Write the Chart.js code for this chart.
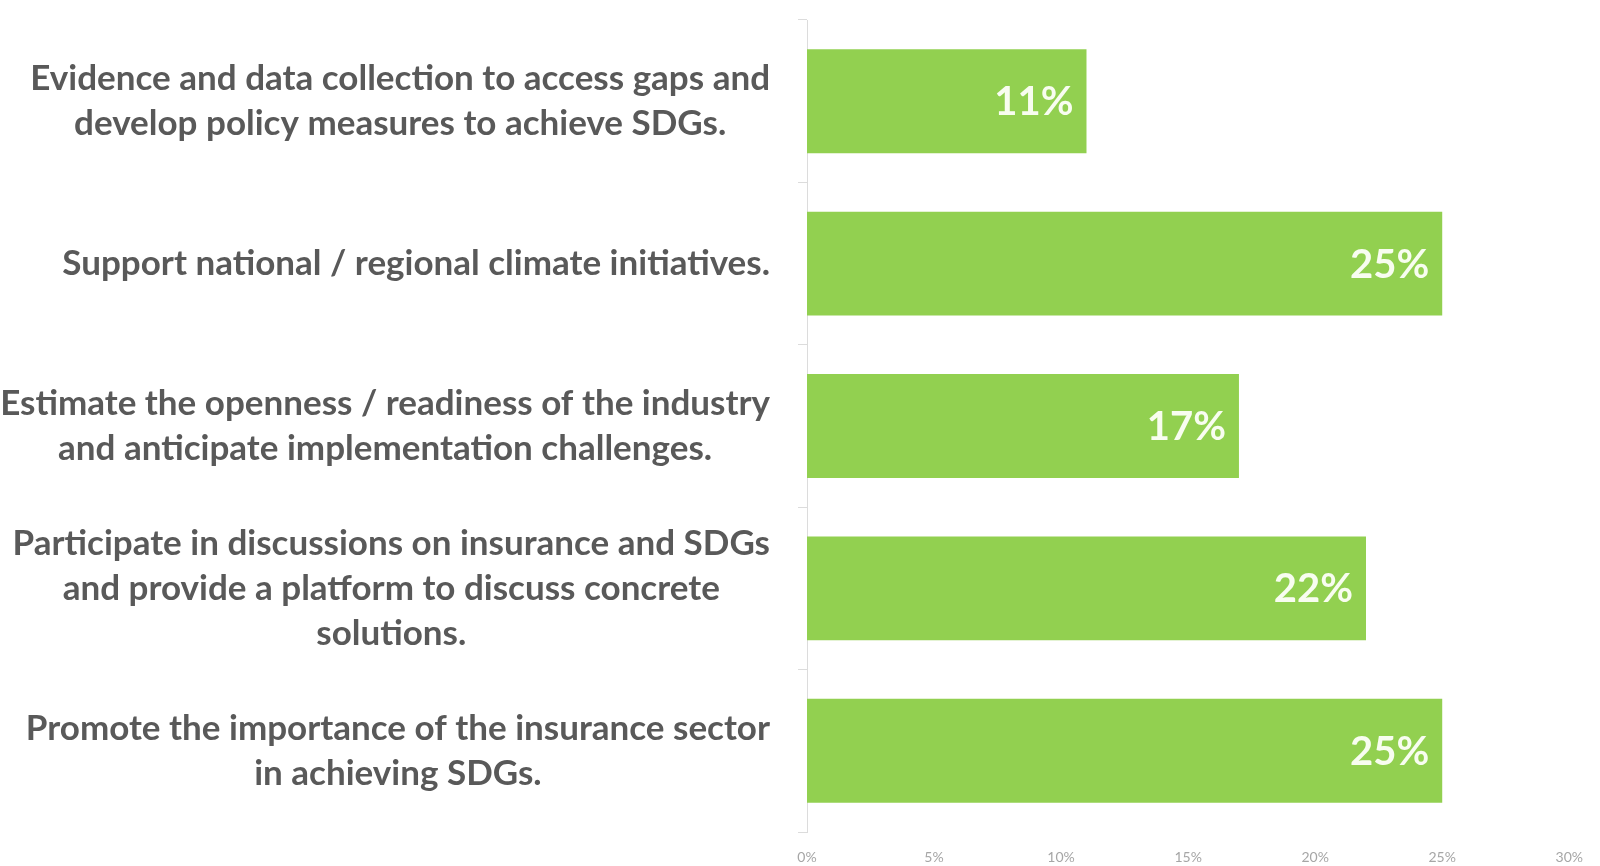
<!DOCTYPE html>
<html>
<head>
<meta charset="utf-8">
<script src="https://cdn.jsdelivr.net/npm/chart.js@4"></script>
<style>
  html, body { margin: 0; padding: 0; background: #fff; }
  #wrap { width: 1600px; height: 866px; }
</style>
</head>
<body>
<div id="wrap"><canvas id="myChart" width="1600" height="866"></canvas></div>
<script>
// survey answers, one bar per answer
const categories = [
    ['Evidence and data collection to access gaps and', 'develop policy measures to achieve SDGs.'],
    ['Support national / regional climate initiatives.'],
    ['Estimate the openness / readiness of the industry', 'and anticipate implementation challenges.'],
    ['Participate in discussions on insurance and SDGs', 'and provide a platform to discuss concrete', 'solutions.'],
    ['Promote the importance of the insurance sector', 'in achieving SDGs.']
];
const shares = [11, 25, 17, 22, 25];
const axisMax = 30;
const axisStep = 5;

const labelFont = 'bold 35px Lato';
const labelLine = 45;

// category labels: each block sits against the axis, its lines centred inside it
const categoryLabels = {
    id: 'categoryLabels',
    afterDraw(chart) {
        const ctx = chart.ctx;
        const scale = chart.scales.y;
        const right = scale.right - 37;
        ctx.save();
        ctx.font = labelFont;
        ctx.fillStyle = '#595959';
        ctx.textAlign = 'center';
        ctx.textBaseline = 'middle';
        categories.forEach(function (lines, i) {
            const y = scale.getPixelForTick(i);
            const w = Math.max.apply(null, lines.map(function (l) { return ctx.measureText(l).width; }));
            const cx = right - w / 2;
            const y0 = y - (lines.length - 1) * labelLine / 2;
            lines.forEach(function (l, j) {
                ctx.fillText(l, cx, y0 + j * labelLine);
            });
        });
        ctx.restore();
    }
};

// write the percentage inside the end of each bar
const barLabels = {
    id: 'barLabels',
    afterDatasetsDraw(chart) {
        const ctx = chart.ctx;
        const meta = chart.getDatasetMeta(0);
        ctx.save();
        ctx.font = 'bold 40px Lato';
        ctx.fillStyle = '#f8fdf0';
        ctx.textAlign = 'right';
        ctx.textBaseline = 'middle';
        meta.data.forEach(function (bar, i) {
            ctx.fillText(shares[i] + '%', bar.x - 13, bar.y + 1);
        });
        ctx.restore();
    }
};

const ctx = document.getElementById('myChart');

new Chart(ctx, {
    type: 'bar',
    data: {
        labels: categories,
        datasets: [{
            data: shares,
            backgroundColor: '#92d050',
            borderWidth: 0,
            categoryPercentage: 1,
            barPercentage: 0.64
        }]
    },
    options: {
        indexAxis: 'y',
        responsive: false,
        animation: false,
        layout: { padding: { top: 20, right: 27, left: 0, bottom: 0 } },
        plugins: {
            legend: { display: false },
            tooltip: { enabled: false }
        },
        scales: {
            x: {
                min: 0,
                max: axisMax,
                afterFit: function (scale) { scale.height = 34; },
                grid: { display: false, drawTicks: false },
                border: { display: false },
                ticks: {
                    stepSize: axisStep,
                    padding: 17,
                    color: '#a6a6a6',
                    font: { family: 'Lato', size: 14 },
                    callback: function (v) { return v + '%'; }
                }
            },
            y: {
                afterFit: function (scale) {
                    scale.width = 807;
                    scale.paddingTop = 0;
                    scale.paddingBottom = 0;
                },
                grid: {
                    drawOnChartArea: false,
                    tickLength: 9,
                    color: '#dcdcdc'
                },
                border: { display: true, color: '#dcdcdc' },
                ticks: { display: false }
            }
        }
    },
    plugins: [barLabels, categoryLabels]
});
</script>
</body>
</html>
